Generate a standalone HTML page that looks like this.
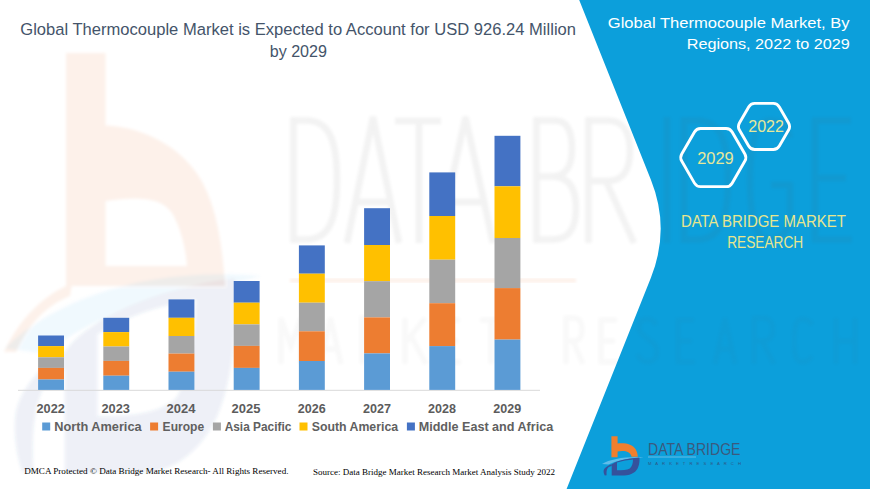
<!DOCTYPE html>
<html><head><meta charset="utf-8"><style>
html,body{margin:0;padding:0;background:#fff;}
body{width:870px;height:489px;overflow:hidden;position:relative;}
svg{position:absolute;left:0;top:0;display:block;}
text{font-family:"Liberation Sans",sans-serif;}
.serif{font-family:"Liberation Serif",serif;}
</style></head><body>
<svg width="870" height="489" viewBox="0 0 870 489">
<defs>
<g id="icon">
  <path id="iconB" d="M611.4,436.3 H617.6 V443.4 C626,442.5 632.5,444.5 635.5,449 C637,451.5 637.7,454 637.8,456.8 H631.6 C631,454 628.5,451.3 624,451 C621.5,450.8 619.5,451 617.6,451.4 V457.3 H611.4 Z" fill="#f07f2e"/>
  <g id="iconD"><path d="M602,463.9 C610,459.3 625,456.3 643.6,457.2 L639.4,457.8 C626,458.6 616,461.2 608.5,464.4 Z" fill="#5fbdea"/>
  <path fill-rule="evenodd" fill="#35529c" d="M611.7,475.4 V464.2 C616,461 626,458.4 639.4,457.4 C640,464 638,470 634,472.5 C631,474.5 628,475.4 624,475.4 Z M617,462.6 C622,460.8 628,459.8 633,459.4 C633,463 632,466.5 629.8,468.5 C627,470 622,470.2 617,470.2 Z"/>
  <path fill="#35529c" d="M611.7,464.2 C608,465.5 604.5,467.5 603.7,470 C603.3,472 604,474 604.8,475.4 L606.6,475.2 C606.3,472 606.6,469.5 608.2,467.6 C609.2,466.6 610.5,466 611.7,465.9 Z"/></g>
</g>
</defs>
<!-- watermark (left, on white) -->

<!-- blue panel -->
<path d="M579.2,0 L650.9,179.7 Q670.5,228.7 650.9,277.7 L566.6,489 L870,489 L870,0 Z" fill="#0c9fdb"/>

<!-- watermark -->
<g id="wm">
  <defs><filter id="bl" x="-10%" y="-10%" width="120%" height="120%"><feGaussianBlur stdDeviation="1.5"/></filter></defs>
  <g filter="url(#bl)">
  <path d="M66,53 H105.5 V125.5 C145,127 180,148 198,175 C214,200 222,235 225,286 H66 Z M105.5,201 C135,197 160,196 172,213 C181,228 186,250 187,266 H105.5 Z" fill-rule="evenodd" fill="#fdf1ea"/>
  <path d="M4,352 C18,322 40,298 66,286 L72,284 L70,296 C45,306 28,325 16,352 Z" fill="#fdf1ea"/>
  <g opacity="0.085"><use href="#iconD" transform="matrix(6.15,0,0,10.8,-3697.2,-4661.84)"/></g>
  </g>
</g>
<rect x="290" y="278.5" width="286" height="4" fill="#fdf0e8" filter="url(#bl)"/>
<g id="wmtext" fill="none" stroke="#555" stroke-width="6.5" opacity="0.07" filter="url(#bl)">
  <path d="M293.5,117 V243 M293.5,120.5 H306 C329,120.5 337,140 337,180 C337,220 329,239.5 306,239.5 H293.5"/>
  <path d="M347,243 L373,117 L399,243 M355,202 H391"/>
  <path d="M395,121 H441 M419,121 V243"/>
  <path d="M438,243 L465.5,117 L493,243 M446,202 H485"/>
  <path d="M536.5,117 V243 M536.5,120.5 H555 C569,120.5 572,135 572,149 C572,167 565,176.5 552,176.5 H536.5 M552,176.5 C570,176.5 576,190 576,208 C576,230 568,239.5 552,239.5 H536.5"/>
  <path d="M588.5,117 V243 M588.5,120.5 H608 C625,120.5 630,135 630,151 C630,171 622,181 608,181 H588.5 M606,181 L634,243"/>
  <path d="M667,117 V243"/>
  <path d="M684,117 V243 M684,120.5 H697 C720,120.5 728,140 728,180 C728,220 720,239.5 697,239.5 H684"/>
  <path d="M790,138 C787,125 779,120.5 769,120.5 C756,120.5 750,145 750,180 C750,220 757,239.5 769,239.5 C782,239.5 790,230 790,215 V185 H771"/>
  <path d="M851,120.5 H815 V239.5 H852 M815,178 H846"/>
</g>
<g id="wmtext2" fill="none" stroke="#555" stroke-width="5" opacity="0.035" filter="url(#bl)">
  <path d="M281,364 V318 L291,346 L301,318 V364"/>
  <path d="M320,364 L330.5,318 L341,364 M324,349 H337"/>
  <path d="M362,364 V318 H371 C378,318 381,323 381,330 C381,337 377,341 371,341 H362 M370,341 L382,364"/>
  <path d="M405,364 V318 M425,318 L406,342 M411,336 L426,364"/>
  <path d="M460,320 H444 V362 H461 M444,341 H458"/>
  <path d="M480,320 H502 M491,320 V364"/>
  <path d="M566,364 V318 H574 C580,318 582,323 582,330 C582,337 579,341 574,341 H566 M573,341 L583,364"/>
  <path d="M617,320 H601 V362 H618 M601,341 H615"/>
  <path d="M656,325 C654,320 650,319 647,319 C642,319 639,322 639,328 C639,338 657,340 657,351 C657,358 653,362 648,362 C643,362 639,359 638,354"/>
  <path d="M694,320 H678 V362 H695 M678,341 H692"/>
  <path d="M715,364 L725,318 L735,364 M719,349 H731"/>
  <path d="M754,364 V318 H763 C770,318 773,323 773,330 C773,337 769,341 763,341 H754 M762,341 L774,364"/>
  <path d="M812,325 C810,320 806,319 802,319 C796,319 794,328 794,341 C794,355 796,362 802,362 C806,362 810,360 812,356"/>
  <path d="M836,364 V318 M855,364 V318 M836,341 H855"/>
</g>
<!-- title -->
<text x="20.3" y="34.9" font-size="15.85" fill="#44546a" textLength="555.7" lengthAdjust="spacingAndGlyphs">Global Thermocouple Market is Expected to Account for USD 926.24 Million</text>
<text x="269.7" y="56.8" font-size="15.85" fill="#44546a" textLength="57.3" lengthAdjust="spacingAndGlyphs">by 2029</text>

<!-- right title -->
<text x="607.8" y="27.7" font-size="15.5" fill="#ffffff" textLength="241.8" lengthAdjust="spacingAndGlyphs">Global Thermocouple Market, By</text>
<text x="686.7" y="49.4" font-size="15.5" fill="#ffffff" textLength="163" lengthAdjust="spacingAndGlyphs">Regions, 2022 to 2029</text>

<!-- hexagons -->
<g fill="none" stroke="#ffffff" stroke-width="2.9">
  <path d="M681.72,161.05 Q679.70,157.55 681.72,154.05 L694.48,131.95 Q696.50,128.45 700.54,128.45 L726.06,128.45 Q730.10,128.45 732.12,131.95 L744.88,154.05 Q746.90,157.55 744.88,161.05 L732.12,183.15 Q730.10,186.65 726.06,186.65 L700.54,186.65 Q696.50,186.65 694.48,183.15 Z"/>
  <path d="M739.42,129.95 Q737.40,126.45 739.42,122.95 L748.68,106.91 Q750.70,103.41 754.74,103.41 L773.26,103.41 Q777.30,103.41 779.32,106.91 L788.58,122.95 Q790.60,126.45 788.58,129.95 L779.32,145.99 Q777.30,149.49 773.26,149.49 L754.74,149.49 Q750.70,149.49 748.68,145.99 Z"/>
</g>
<text x="697.2" y="163.8" font-size="16" fill="#e6e89a" textLength="36.5" lengthAdjust="spacingAndGlyphs">2029</text>
<text x="748.2" y="132.1" font-size="16" fill="#e6e89a" textLength="35.8" lengthAdjust="spacingAndGlyphs">2022</text>

<text x="680.9" y="226.6" font-size="16.2" fill="#e8e68e" textLength="165" lengthAdjust="spacingAndGlyphs">DATA BRIDGE MARKET</text>
<text x="727.2" y="248.3" font-size="16.2" fill="#e8e68e" textLength="76" lengthAdjust="spacingAndGlyphs">RESEARCH</text>

<!-- axis -->
<rect x="18" y="389.8" width="522" height="1" fill="#d9d9d9"/>

<!-- bars -->
<g id="bars">
<rect x="38.1" y="335.5" width="25.9" height="10.6" fill="#4472c4"/>
<rect x="38.1" y="346.1" width="25.9" height="11.2" fill="#ffc000"/>
<rect x="38.1" y="357.3" width="25.9" height="10.6" fill="#a5a5a5"/>
<rect x="38.1" y="367.9" width="25.9" height="11.6" fill="#ed7d31"/>
<rect x="38.1" y="379.5" width="25.9" height="10.4" fill="#5b9bd5"/>
<rect x="103.3" y="317.8" width="25.9" height="14.3" fill="#4472c4"/>
<rect x="103.3" y="332.1" width="25.9" height="14.4" fill="#ffc000"/>
<rect x="103.3" y="346.5" width="25.9" height="14.4" fill="#a5a5a5"/>
<rect x="103.3" y="360.9" width="25.9" height="14.8" fill="#ed7d31"/>
<rect x="103.3" y="375.7" width="25.9" height="14.2" fill="#5b9bd5"/>
<rect x="168.5" y="299.4" width="25.9" height="18.4" fill="#4472c4"/>
<rect x="168.5" y="317.8" width="25.9" height="18.2" fill="#ffc000"/>
<rect x="168.5" y="336" width="25.9" height="17.6" fill="#a5a5a5"/>
<rect x="168.5" y="353.6" width="25.9" height="18.1" fill="#ed7d31"/>
<rect x="168.5" y="371.7" width="25.9" height="18.2" fill="#5b9bd5"/>
<rect x="233.7" y="281" width="25.9" height="21.7" fill="#4472c4"/>
<rect x="233.7" y="302.7" width="25.9" height="21.7" fill="#ffc000"/>
<rect x="233.7" y="324.4" width="25.9" height="21.5" fill="#a5a5a5"/>
<rect x="233.7" y="345.9" width="25.9" height="22.0" fill="#ed7d31"/>
<rect x="233.7" y="367.9" width="25.9" height="22.0" fill="#5b9bd5"/>
<rect x="298.9" y="245.4" width="25.9" height="28.3" fill="#4472c4"/>
<rect x="298.9" y="273.7" width="25.9" height="29.0" fill="#ffc000"/>
<rect x="298.9" y="302.7" width="25.9" height="28.6" fill="#a5a5a5"/>
<rect x="298.9" y="331.3" width="25.9" height="29.7" fill="#ed7d31"/>
<rect x="298.9" y="361" width="25.9" height="28.9" fill="#5b9bd5"/>
<rect x="364.1" y="208.2" width="25.9" height="36.8" fill="#4472c4"/>
<rect x="364.1" y="245" width="25.9" height="36.2" fill="#ffc000"/>
<rect x="364.1" y="281.2" width="25.9" height="36.2" fill="#a5a5a5"/>
<rect x="364.1" y="317.4" width="25.9" height="36.0" fill="#ed7d31"/>
<rect x="364.1" y="353.4" width="25.9" height="36.5" fill="#5b9bd5"/>
<rect x="429.3" y="172.4" width="25.9" height="43.6" fill="#4472c4"/>
<rect x="429.3" y="216" width="25.9" height="43.7" fill="#ffc000"/>
<rect x="429.3" y="259.7" width="25.9" height="43.5" fill="#a5a5a5"/>
<rect x="429.3" y="303.2" width="25.9" height="42.9" fill="#ed7d31"/>
<rect x="429.3" y="346.1" width="25.9" height="43.8" fill="#5b9bd5"/>
<rect x="494.5" y="135.8" width="25.9" height="50.5" fill="#4472c4"/>
<rect x="494.5" y="186.3" width="25.9" height="51.7" fill="#ffc000"/>
<rect x="494.5" y="238" width="25.9" height="50.1" fill="#a5a5a5"/>
<rect x="494.5" y="288.1" width="25.9" height="51.5" fill="#ed7d31"/>
<rect x="494.5" y="339.6" width="25.9" height="50.3" fill="#5b9bd5"/>
</g>

<!-- year labels -->
<g font-size="12.6" font-weight="bold" fill="#5c5c5c">
  <text x="36.5" y="413.3" textLength="28.4" lengthAdjust="spacingAndGlyphs">2022</text>
  <text x="101.4" y="413.3" textLength="28.6" lengthAdjust="spacingAndGlyphs">2023</text>
  <text x="166.6" y="413.3" textLength="28.9" lengthAdjust="spacingAndGlyphs">2024</text>
  <text x="231.5" y="413.3" textLength="28.9" lengthAdjust="spacingAndGlyphs">2025</text>
  <text x="297.8" y="413.3" textLength="27.9" lengthAdjust="spacingAndGlyphs">2026</text>
  <text x="362.9" y="413.3" textLength="28" lengthAdjust="spacingAndGlyphs">2027</text>
  <text x="428.1" y="413.3" textLength="27.9" lengthAdjust="spacingAndGlyphs">2028</text>
  <text x="493.3" y="413.3" textLength="27.9" lengthAdjust="spacingAndGlyphs">2029</text>
</g>

<!-- legend -->
<g>
  <rect x="42.2" y="422.5" width="8" height="8" fill="#5b9bd5"/>
  <rect x="150.1" y="422.5" width="8" height="8" fill="#ed7d31"/>
  <rect x="212.9" y="422.5" width="8" height="8" fill="#a5a5a5"/>
  <rect x="299.5" y="422.5" width="8" height="8" fill="#ffc000"/>
  <rect x="406.9" y="422.5" width="8" height="8" fill="#4472c4"/>
</g>
<g font-size="12" font-weight="bold" fill="#606060">
  <text x="54.2" y="430.6" textLength="87.4" lengthAdjust="spacingAndGlyphs">North America</text>
  <text x="162.6" y="430.6" textLength="41.5" lengthAdjust="spacingAndGlyphs">Europe</text>
  <text x="224.7" y="430.6" textLength="66.6" lengthAdjust="spacingAndGlyphs">Asia Pacific</text>
  <text x="311.7" y="430.6" textLength="86.4" lengthAdjust="spacingAndGlyphs">South America</text>
  <text x="418.7" y="430.6" textLength="134.5" lengthAdjust="spacingAndGlyphs">Middle East and Africa</text>
</g>

<!-- footer -->
<text class="serif" x="24.2" y="473.7" font-size="8.5" fill="#000" textLength="264.3" lengthAdjust="spacingAndGlyphs">DMCA Protected © Data Bridge Market Research- All Rights Reserved.</text>
<text class="serif" x="313" y="475" font-size="8.5" fill="#000" textLength="242" lengthAdjust="spacingAndGlyphs">Source: Data Bridge Market Research Market Analysis Study 2022</text>

<!-- logo -->
<use href="#icon"/>
<text x="648" y="454.6" font-size="16.8" fill="#3b5a7e" stroke="#0c9fdb" stroke-width="0.45" paint-order="stroke" textLength="92.5" lengthAdjust="spacingAndGlyphs">DATA BRIDGE</text>
<rect x="648" y="456.6" width="48" height="0.8" fill="#7cc6ea"/>
<text x="648" y="465" font-size="4.2" fill="#2f5583" textLength="93" lengthAdjust="spacing">M A R K E T   R E S E A R C H</text>
</svg>
</body></html>
